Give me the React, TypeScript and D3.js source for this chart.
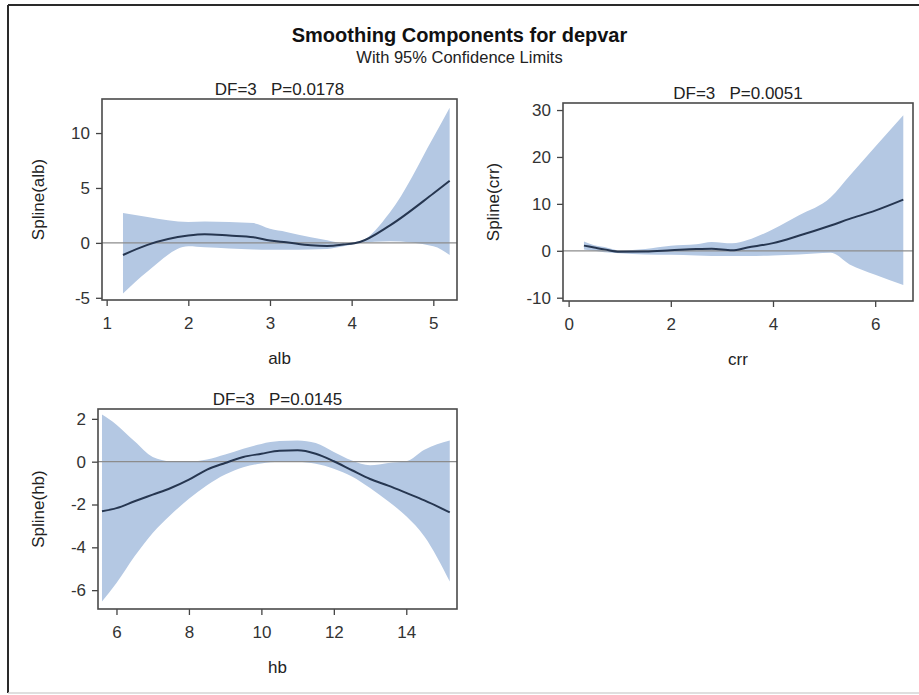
import { useEffect, useRef } from "react";
import * as d3 from "d3";

// ── alb component ──────────────────────────────────────────────────────────
const albX = [1.2, 1.5, 2.0, 2.2, 2.5, 2.8, 3.0, 3.2, 3.5, 3.7, 3.9, 4.1, 4.47, 5.0, 5.2];
const albFit = [-1.1, -0.18, 0.67, 0.79, 0.67, 0.52, 0.21, 0.05, -0.22, -0.28, -0.15, 0.08, 1.6, 4.5, 5.65];
const albUpper = [2.72, 2.35, 1.9, 1.95, 1.9, 1.8, 1.28, 1.0, 0.52, 0.25, -0.02, 0.15, 2.8, 9.6, 12.3];
const albLower = [-4.6, -2.6, -0.31, -0.4, -0.5, -0.6, -0.62, -0.62, -0.6, -0.55, -0.3, 0.0, 0.15, -0.3, -1.1];
const albXTicks = [1, 2, 3, 4, 5];
const albYTicks = [-5, 0, 5, 10];

// ── crr component ──────────────────────────────────────────────────────────
const crrX = [0.3, 0.5, 0.7, 1.0, 1.5, 2.0, 2.5, 2.8, 3.2, 3.5, 4.0, 4.5, 5.13, 5.5, 6.0, 6.55];
const crrFit = [1.1, 0.7, 0.3, -0.2, -0.15, 0.1, 0.36, 0.43, 0.1, 0.7, 1.64, 3.2, 5.4, 6.8, 8.56, 10.9];
const crrUpper = [2.0, 1.2, 0.8, 0.1, 0.4, 1.07, 1.4, 1.9, 1.6, 2.3, 4.6, 7.5, 11.4, 16.0, 22.2, 28.9];
const crrLower = [0.3, 0.0, -0.3, -0.5, -0.8, -0.86, -1.0, -1.1, -1.1, -1.1, -1.0, -0.8, -0.4, -2.9, -5.1, -7.3];
const crrXTicks = [0, 2, 4, 6];
const crrYTicks = [-10, 0, 10, 20, 30];

// ── hb component ───────────────────────────────────────────────────────────
const hbX = [5.6, 6, 6.5, 7, 7.5, 8, 8.5, 9, 9.5, 10, 10.5, 11, 11.5, 12, 12.5, 13, 13.5, 14, 14.5, 15.2];
const hbFit = [-2.32, -2.17, -1.85, -1.54, -1.23, -0.84, -0.37, -0.06, 0.22, 0.37, 0.51, 0.53, 0.37, 0.02, -0.4, -0.81, -1.12, -1.46, -1.81, -2.37];
const hbUpper = [2.2, 1.73, 0.95, 0.22, 0.02, 0.0, 0.1, 0.33, 0.6, 0.83, 0.96, 0.99, 0.87, 0.45, 0.05, -0.17, -0.06, 0.02, 0.56, 0.99];
const hbLower = [-6.53, -5.67, -4.42, -3.33, -2.48, -1.73, -1.1, -0.6, -0.26, -0.08, 0.0, 0.0, -0.1, -0.33, -0.69, -1.23, -1.85, -2.55, -3.49, -5.59];
const hbXTicks = [6, 8, 10, 12, 14];
const hbYTicks = [-6, -4, -2, 0, 2];

const TITLE = "Smoothing Components for depvar";
const SUBTITLE = "With 95% Confidence Limits";

interface Panel {
  title: string;
  xLabel: string;
  yLabel: string;
  x: number[];
  fit: number[];
  upper: number[];
  lower: number[];
  xDomain: [number, number];
  yDomain: [number, number];
  xTicks: number[];
  yTicks: number[];
  box: { left: number; top: number; width: number; height: number };
  yLabelX: number;
}

const panels: Panel[] = [
  {
    title: "DF=3   P=0.0178", xLabel: "alb", yLabel: "Spline(alb)",
    x: albX, fit: albFit, upper: albUpper, lower: albLower,
    xDomain: [0.943, 5.29], yDomain: [-5.2, 13.1],
    xTicks: albXTicks, yTicks: albYTicks,
    box: { left: 102, top: 99, width: 355, height: 201 }, yLabelX: 44,
  },
  {
    title: "DF=3   P=0.0051", xLabel: "crr", yLabel: "Spline(crr)",
    x: crrX, fit: crrFit, upper: crrUpper, lower: crrLower,
    xDomain: [-0.11, 6.74], yDomain: [-10.7, 31.5],
    xTicks: crrXTicks, yTicks: crrYTicks,
    box: { left: 563, top: 103, width: 350, height: 198 }, yLabelX: 499,
  },
  {
    title: "DF=3   P=0.0145", xLabel: "hb", yLabel: "Spline(hb)",
    x: hbX, fit: hbFit, upper: hbUpper, lower: hbLower,
    xDomain: [5.49, 15.4], yDomain: [-6.88, 2.46],
    xTicks: hbXTicks, yTicks: hbYTicks,
    box: { left: 98, top: 409, width: 359, height: 200 }, yLabelX: 44,
  },
];

const W = 919;
const H = 695;
const FONT = "'Liberation Sans', Arial, Helvetica, sans-serif";

export default function App() {
  const svgRef = useRef<SVGSVGElement>(null);

  useEffect(() => {
    if (!svgRef.current) return;
    const svg = d3.select(svgRef.current);
    svg.selectAll("*").remove();

    svg.append("rect").attr("width", W).attr("height", H).attr("fill", "#fff");

    // outer frame (right side is cut off in the original)
    svg.append("line").attr("x1", 8).attr("x2", W).attr("y1", 5).attr("y2", 5)
      .attr("stroke", "#2a2a2a").attr("stroke-width", 2);
    svg.append("line").attr("x1", 8).attr("x2", 8).attr("y1", 5).attr("y2", 693)
      .attr("stroke", "#2a2a2a").attr("stroke-width", 2);
    svg.append("line").attr("x1", 8).attr("x2", W).attr("y1", 693).attr("y2", 693)
      .attr("stroke", "#d4d4d4").attr("stroke-width", 1.5);

    // ── Titles ──────────────────────────────────────────────────────────
    svg.append("text")
      .attr("x", 459.5).attr("y", 42)
      .attr("text-anchor", "middle")
      .attr("font-size", 20).attr("font-weight", "bold").attr("fill", "#111")
      .text(TITLE);
    svg.append("text")
      .attr("x", 459.5).attr("y", 63)
      .attr("text-anchor", "middle")
      .attr("font-size", 16.5).attr("fill", "#222")
      .text(SUBTITLE);

    panels.forEach((p) => {
      const { left, top, width, height } = p.box;
      const xScale = d3.scaleLinear().domain(p.xDomain).range([left, left + width]);
      const yScale = d3.scaleLinear().domain(p.yDomain).range([top + height, top]);
      const g = svg.append("g");

      // ── Confidence band ──────────────────────────────────────────────
      const band = d3.area<number>()
        .x((_, i) => xScale(p.x[i]))
        .y0((_, i) => yScale(p.lower[i]))
        .y1((d) => yScale(d))
        .curve(d3.curveMonotoneX);
      g.append("path")
        .datum(p.upper)
        .attr("fill", "#b4c8e3")
        .attr("d", band);

      // ── Zero reference ───────────────────────────────────────────────
      g.append("line")
        .attr("x1", left).attr("x2", left + width)
        .attr("y1", yScale(0)).attr("y2", yScale(0))
        .attr("stroke", "#8c8c8c").attr("stroke-width", 1.3);

      // ── Fitted spline ────────────────────────────────────────────────
      const fitLine = d3.line<number>()
        .x((_, i) => xScale(p.x[i]))
        .y((d) => yScale(d))
        .curve(d3.curveMonotoneX);
      g.append("path")
        .datum(p.fit)
        .attr("fill", "none")
        .attr("stroke", "#263650")
        .attr("stroke-width", 2)
        .attr("d", fitLine);

      // ── Axes ─────────────────────────────────────────────────────────
      g.append("g")
        .attr("transform", `translate(0,${top + height})`)
        .call(d3.axisBottom(xScale).tickValues(p.xTicks).tickSize(6).tickPadding(11).tickFormat((d) => `${d}`))
        .call((ax) => ax.select(".domain").remove())
        .call((ax) => ax.selectAll(".tick line").attr("stroke", "#444").attr("stroke-width", 1.3))
        .call((ax) => ax.selectAll("text").attr("fill", "#333").attr("font-size", 17).attr("font-family", FONT));

      g.append("g")
        .attr("transform", `translate(${left},0)`)
        .call(d3.axisLeft(yScale).tickValues(p.yTicks).tickSize(6).tickPadding(6).tickFormat((d) => `${d}`))
        .call((ax) => ax.select(".domain").remove())
        .call((ax) => ax.selectAll(".tick line").attr("stroke", "#444").attr("stroke-width", 1.3))
        .call((ax) => ax.selectAll("text").attr("fill", "#333").attr("font-size", 17).attr("font-family", FONT));

      // ── Frame ────────────────────────────────────────────────────────
      g.append("rect")
        .attr("x", left).attr("y", top)
        .attr("width", width).attr("height", height)
        .attr("fill", "none")
        .attr("stroke", "#4a4a4a")
        .attr("stroke-width", 1.6);

      // ── Labels ───────────────────────────────────────────────────────
      g.append("text")
        .attr("x", left + width / 2).attr("y", top - 4)
        .attr("text-anchor", "middle")
        .attr("font-size", 17).attr("fill", "#222")
        .attr("xml:space", "preserve")
        .text(p.title);

      g.append("text")
        .attr("x", left + width / 2).attr("y", top + height + 64)
        .attr("text-anchor", "middle")
        .attr("font-size", 17).attr("fill", "#222")
        .text(p.xLabel);

      g.append("text")
        .attr("transform", `translate(${p.yLabelX},${top + height / 2}) rotate(-90)`)
        .attr("text-anchor", "middle")
        .attr("font-size", 17).attr("fill", "#222")
        .text(p.yLabel);
    });
  }, []);

  return (
    <div style={{ position: "absolute", left: 0, top: 0 }}>
      <svg
        ref={svgRef}
        width={W}
        height={H}
        style={{ display: "block", fontFamily: FONT }}
        role="img"
        aria-label="Smoothing components for depvar with 95% confidence limits"
      />
    </div>
  );
}
